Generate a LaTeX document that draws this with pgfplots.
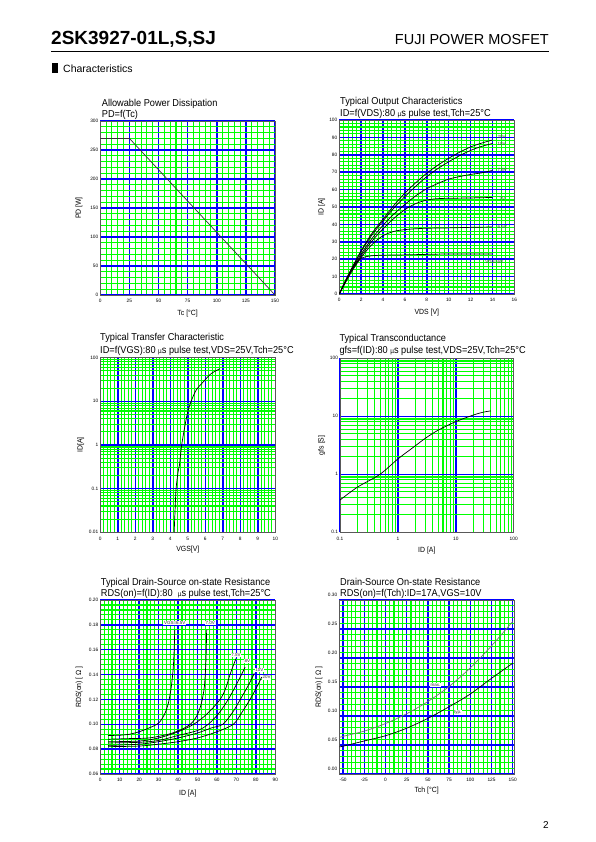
\documentclass[border=0pt]{standalone}
\usepackage{pgfplots}
\pgfplotsset{compat=1.18}
\usepackage{fontspec}
\setmainfont{Liberation Sans}
\newfontfamily\nf[FakeStretch=0.92]{Liberation Sans}
\newcommand\ttl{\nf\fontsize{10}{12}\selectfont}
\newcommand\lbl{\nf\fontsize{7.5}{9}\selectfont}
\newcommand\tkf{\fontsize{4.8}{5.5}\selectfont}
\newcommand\smf{\fontsize{4.5}{5}\selectfont}
\newcommand\mus{{\fontsize{7}{8}\selectfont µ}}
\definecolor{gridgreen}{RGB}{0,255,0}
\definecolor{gridblue}{RGB}{0,0,255}
\pgfplotsset{
  ds/.style={
    scale only axis, anchor=south west,
    grid=both,
    major grid style={draw=gridblue, line width=1.5pt},
    minor grid style={draw=gridgreen, line width=1.1pt},
    axis line style={draw=black!65, line width=0.8pt},
    major tick length=0pt, minor tick length=0pt,
    tick style={draw=none},
    tick label style={font=\tkf},
    xticklabel style={yshift=-1pt},
    yticklabel style={xshift=1.5pt},
    label style={font=\lbl},
  },
  cv/.style={black, line width=0.7pt, smooth}
}
\begin{document}
\begin{tikzpicture}
\useasboundingbox[fill=white] (0pt,0pt) rectangle (595pt,-842pt);
% header
\node[anchor=base west, inner sep=0, font=\fontsize{19}{22}\selectfont\bfseries] at (51pt,-45pt) {2SK3927-01L,S,SJ};
\node[anchor=base east, inner sep=0, font=\fontsize{14.5}{17}\selectfont] at (549pt,-44.5pt) {FUJI POWER MOSFET};
\draw[line width=1pt] (51pt,-52pt) -- (549pt,-52pt);
\fill[black] (51.5pt,-63.5pt) rectangle (58pt,-73pt);
\node[anchor=base west, inner sep=0, font=\fontsize{10.5}{12}\selectfont] at (63pt,-72.5pt) {Characteristics};
\node[anchor=base, inner sep=0, font=\fontsize{10}{12}\selectfont] at (546pt,-828pt) {2};
% titles
\node[anchor=base west, inner sep=0, font=\ttl] at (101.7pt,-106.7pt) {Allowable Power Dissipation};
\node[anchor=base west, inner sep=0, font=\ttl] at (101.7pt,-118pt) {PD=f(Tc)};
\node[anchor=base west, inner sep=0, font=\ttl] at (340pt,-105pt) {Typical Output Characteristics};
\node[anchor=base west, inner sep=0, font=\ttl] at (340pt,-116.7pt) {ID=f(VDS):80 \mus s pulse test,Tch=25°C};
\node[anchor=base west, inner sep=0, font=\ttl] at (100pt,-340pt) {Typical Transfer Characteristic};
\node[anchor=base west, inner sep=0, font=\ttl] at (100pt,-353pt) {ID=f(VGS):80 \mus s pulse test,VDS=25V,Tch=25°C};
\node[anchor=base west, inner sep=0, font=\ttl] at (339.3pt,-341.7pt) {Typical Transconductance};
\node[anchor=base west, inner sep=0, font=\ttl] at (339.3pt,-353.3pt) {gfs=f(ID):80 \mus s pulse test,VDS=25V,Tch=25°C};
\node[anchor=base west, inner sep=0, font=\ttl] at (100.7pt,-585pt) {Typical Drain-Source on-state Resistance};
\node[anchor=base west, inner sep=0, font=\ttl] at (100.7pt,-596.7pt) {RDS(on)=f(ID):80 \ \mus s pulse test,Tch=25°C};
\node[anchor=base west, inner sep=0, font=\ttl] at (340pt,-585pt) {Drain-Source On-state Resistance};
\node[anchor=base west, inner sep=0, font=\ttl] at (340pt,-596.7pt) {RDS(on)=f(Tch):ID=17A,VGS=10V};

% Plot 1
\begin{axis}[ds, at={(100.3pt,-295pt)}, width=174.7pt, height=174pt,
  xmin=0, xmax=150, ymin=0, ymax=300,
  xtick={0,25,50,75,100,125,150}, minor x tick num=4,
  ytick={0,50,100,150,200,250,300}, minor y tick num=4,
  xticklabels={0,25,50,75,100,125,150}, yticklabels={0,50,100,150,200,250,300},
  xlabel={Tc [°C]}, ylabel={PD [W]},
  xlabel style={at={(axis description cs:0.5,-0.105)}, anchor=center},
  ylabel style={at={(axis description cs:-0.122,0.5)}, anchor=center}]
\addplot[black!80, line width=0.7pt] coordinates {(0,270) (25,270) (150,0)};
\end{axis}

% Plot 2
\begin{axis}[ds, at={(339.3pt,-294pt)}, width=175pt, height=174pt,
  xmin=0, xmax=16, ymin=0, ymax=100,
  xtick={0,2,4,6,8,10,12,14,16}, minor x tick num=4,
  ytick={0,10,20,30,40,50,60,70,80,90,100}, minor y tick num=4,
  xticklabels={0,2,4,6,8,10,12,14,16}, yticklabels={0,10,20,30,40,50,60,70,80,90,100},
  xlabel={VDS [V]}, ylabel={ID [A]},
  xlabel style={at={(axis description cs:0.5,-0.107)}, anchor=center},
  ylabel style={at={(axis description cs:-0.1,0.5)}, anchor=center}]
\addplot[cv] coordinates {(0,0)(1,13)(2,25)(3,35)(4,43)(5,51)(6,58)(7,64)(8,69.5)(9,74)(10,78)(11,81.5)(12,84.5)(13,86.7)(14,88.5)};
\addplot[cv] coordinates {(0,0)(1,13)(2,24.5)(3,34)(4,42)(5,49.5)(6,56)(7,62)(8,67.5)(9,72)(10,76)(11,79.5)(12,82.5)(13,84.8)(14,86.5)};
\addplot[cv] coordinates {(0,0)(1,12.5)(2,23)(3,32)(4,39.5)(5,46)(6,51.5)(7,56.5)(8,60.5)(9,63.5)(10,66)(11,67.5)(12,68.7)(13,69.6)(14,71)};
\addplot[cv] coordinates {(0,0)(1,12)(2,22)(3,30.5)(4,37.5)(5,43.5)(6,48.5)(7,52)(8,54)(9,54.8)(10,55)(12,55.2)(14,55.5)};
\addplot[cv] coordinates {(0,0)(1,11.5)(2,21)(3,28.5)(4,33.5)(5,36)(6,37)(7,37.5)(8,37.8)(10,38)(12,38.3)(14,38.5)};
\addplot[cv] coordinates {(0,0)(0.5,7)(1,13)(1.5,17.5)(2,20.5)(2.5,21.5)(3,22)(4,22.3)(6,22.5)(10,23)(14,23)};
\node[font=\smf, text=black!75, anchor=west, inner sep=0.5pt] at (axis cs:14.4,90.4) {20V};
\node[font=\smf, text=black!75, anchor=west, inner sep=0.5pt] at (axis cs:14.4,86) {10V};
\node[font=\smf, text=black!75, anchor=west, inner sep=0.5pt] at (axis cs:14.4,71.2) {7.5V};
\node[font=\smf, text=black!75, anchor=west, inner sep=0.5pt] at (axis cs:14.6,54.4) {7V};
\node[font=\smf, text=black!75, anchor=west, inner sep=0.5pt] at (axis cs:14.4,38.7) {6.5V};
\node[font=\smf, text=black!75, anchor=west, inner sep=0.5pt] at (axis cs:13.3,18.2) {VGS=6V};
\end{axis}

% Plot 3
\begin{axis}[ds, at={(100.3pt,-532.3pt)}, width=175pt, height=174.6pt,
  ymode=log, xmin=0, xmax=10, ymin=0.01, ymax=100,
  xtick={0,1,2,3,4,5,6,7,8,9,10}, minor x tick num=4,
  xticklabels={0,1,2,3,4,5,6,7,8,9,10},
  ytick={0.01,0.1,1,10,100}, yticklabels={0.01,0.1,1,10,100},
  xlabel={VGS[V]}, ylabel={ID[A]},
  xlabel style={at={(axis description cs:0.5,-0.101)}, anchor=center},
  ylabel style={at={(axis description cs:-0.112,0.5)}, anchor=center}]
\addplot[cv] coordinates {(4.22,0.01)(4.27,0.03)(4.33,0.1)(4.45,0.25)(4.52,0.34)(4.65,1)(4.84,2.8)(4.99,5.6)(5.19,10)(5.47,17.9)(5.85,27)(6.33,43)(6.84,56)};
\end{axis}

% Plot 4
\begin{axis}[ds, at={(340pt,-532.3pt)}, width=173.7pt, height=174pt,
  xmode=log, ymode=log, xmin=0.1, xmax=100, ymin=0.1, ymax=100,
  xtick={0.1,1,10,100}, xticklabels={0.1,1,10,100},
  ytick={0.1,1,10,100}, yticklabels={0.1,1,10,100},
  xlabel={ID [A]}, ylabel={gfs [S]},
  xlabel style={at={(axis description cs:0.5,-0.107)}, anchor=center},
  ylabel style={at={(axis description cs:-0.105,0.5)}, anchor=center}]
\addplot[cv] coordinates {(0.1,0.36)(0.2,0.6)(0.49,1.0)(1,1.84)(2,3.1)(3,4.2)(5,5.8)(10,8.1)(20,10.5)(30,11.8)(40.5,12.4)};
\end{axis}

% Plot 5
\begin{axis}[ds, at={(100.3pt,-774pt)}, width=175pt, height=174pt,
  xmin=0, xmax=90, ymin=0.06, ymax=0.20,
  xtick={0,10,20,30,40,50,60,70,80,90}, minor x tick num=4,
  xticklabels={0,10,20,30,40,50,60,70,80,90},
  ytick={0.06,0.08,0.10,0.12,0.14,0.16,0.18,0.20}, minor y tick num=4,
  yticklabels={0.06,0.08,0.10,0.12,0.14,0.16,0.18,0.20},
  xlabel={ID [A]}, ylabel={RDS(on) [ Ω ]},
  xlabel style={at={(axis description cs:0.5,-0.115)}, anchor=center},
  ylabel style={at={(axis description cs:-0.12,0.5)}, anchor=center}]
\addplot[cv] coordinates {(4,0.091)(10,0.0912)(15,0.092)(20,0.094)(25,0.097)(30,0.101)(33,0.108)(35,0.117)(36.5,0.130)(37.5,0.145)(38,0.160)(38.3,0.176)};
\addplot[cv] coordinates {(4,0.088)(15,0.0885)(25,0.089)(35,0.092)(42,0.096)(47,0.101)(50,0.108)(52,0.117)(53.5,0.130)(54.3,0.150)(54.7,0.176)};
\addplot[cv] coordinates {(4,0.086)(20,0.0865)(30,0.089)(40,0.094)(48,0.100)(55,0.1085)(61.6,0.120)(64.5,0.129)(66.7,0.140)(69.8,0.153)};
\addplot[cv] coordinates {(4,0.085)(20,0.0855)(30,0.087)(40,0.091)(50,0.095)(55.5,0.100)(61,0.109)(65.8,0.120)(70,0.132)(74.5,0.146)};
\addplot[cv] coordinates {(4,0.083)(20,0.084)(30,0.086)(40,0.089)(50,0.093)(57,0.097)(63,0.100)(68,0.1095)(72,0.120)(76,0.131)(79.2,0.141)};
\addplot[cv] coordinates {(4,0.082)(20,0.0825)(30,0.084)(40,0.086)(50,0.089)(60,0.094)(68.4,0.100)(73,0.110)(77,0.120)(80.5,0.130)(83,0.138)};
\node[font=\smf, text=black!80, fill=white, inner sep=0.6pt] at (axis cs:38.3,0.1813) {VGS=6.5V};
\node[font=\smf, text=black!80, fill=white, inner sep=0.6pt] at (axis cs:56.6,0.1813) {7.0V};
\node[font=\smf, text=black!80, fill=white, inner sep=0.6pt] at (axis cs:69.8,0.156) {7.5V};
\node[font=\smf, text=black!80, fill=white, inner sep=0.6pt] at (axis cs:75.6,0.151) {8V};
\node[font=\smf, text=black!80, fill=white, inner sep=0.6pt] at (axis cs:81.8,0.1437) {10V};
\node[font=\smf, text=black!80, fill=white, inner sep=0.6pt] at (axis cs:85.6,0.1378) {20V};
\end{axis}

% Plot 6
\begin{axis}[ds, at={(339.3pt,-774pt)}, width=174.7pt, height=174pt,
  xmin=-54.5, xmax=151.5, ymin=0, ymax=0.30,
  xtick={-50,-25,0,25,50,75,100,125,150}, minor x tick num=4,
  xticklabels={-50,-25,0,25,50,75,100,125,150},
  ytick={0,0.05,0.10,0.15,0.20,0.25,0.30}, minor y tick num=4,
  yticklabels={0.00,0.05,0.10,0.15,0.20,0.25,0.30},
  yticklabel style={yshift=4.8pt},
  xlabel={Tch [°C]}, ylabel={RDS(on) [ Ω ]},
  xlabel style={at={(axis description cs:0.5,-0.096)}, anchor=center},
  ylabel style={at={(axis description cs:-0.116,0.5)}, anchor=center}]
\addplot[cv, black!55] coordinates {(-54,0.063)(-50,0.065)(-25,0.074)(0,0.087)(25,0.104)(50,0.125)(75,0.151)(100,0.183)(125,0.221)(150,0.263)};
\addplot[cv] coordinates {(-54,0.047)(-50,0.048)(-25,0.057)(0,0.066)(25,0.079)(50,0.096)(75,0.116)(100,0.138)(125,0.165)(150,0.191)};
\node[font=\smf, text=black!80, fill=white, inner sep=0.6pt] at (axis cs:59,0.153) {max.};
\node[font=\smf, text=black!80, fill=white, inner sep=0.6pt] at (axis cs:85.3,0.106) {typ.};
\end{axis}
\end{tikzpicture}
\end{document}
